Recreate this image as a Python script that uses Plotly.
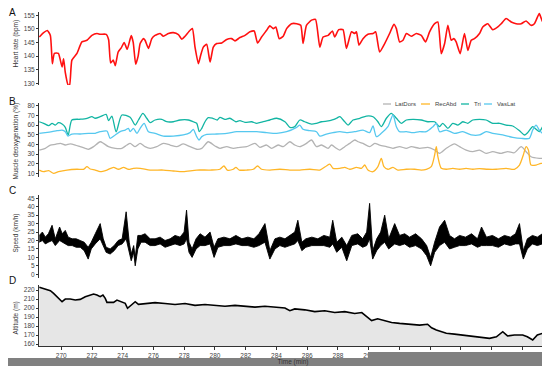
import plotly.graph_objects as go

# ---------------- data ----------------
hr_time = [268.57, 268.83, 269.09, 269.29, 269.42, 269.55, 269.81, 270.05, 270.15, 270.26, 270.44, 270.54,
           270.69, 271.02, 271.34, 271.67, 271.99, 272.32, 272.53, 272.92, 273.08, 273.21, 273.38, 273.51,
           273.70, 273.90, 274.09, 274.29, 274.55, 274.68, 274.84, 275.00, 275.13, 275.34, 275.45, 275.67,
           275.89, 276.10, 276.43, 276.64, 276.97, 277.29, 277.62, 277.84, 278.05, 278.38, 278.53, 278.70,
           278.92, 279.07, 279.24, 279.46, 279.68, 279.89, 280.11, 280.44, 280.76, 281.08, 281.30, 281.62,
           281.95, 282.27, 282.55, 282.77, 283.03, 283.36, 283.57, 283.79, 283.96, 284.18, 284.44, 284.66,
           284.98, 285.31, 285.58, 285.73, 285.95, 286.28, 286.54, 286.82, 287.03, 287.36, 287.64, 287.79,
           288.05, 288.33, 288.55, 288.88, 289.09, 289.20, 289.37, 289.63, 289.95, 290.28, 290.45, 290.71,
           291.04, 291.36, 291.64, 291.80, 292.01, 292.23, 292.45, 292.77, 293.10, 293.42, 293.70, 293.96,
           294.29, 294.50, 294.72, 294.94, 295.15, 295.37, 295.54, 295.69, 295.95, 296.23, 296.45, 296.67,
           296.88, 297.21, 297.42, 297.75, 298.07, 298.40, 298.62, 298.94, 299.27, 299.59, 299.92, 300.24,
           300.56, 300.78, 301.10, 301.32, 301.49]
hr_bpm = [147.0, 148.5, 149.4, 147.6, 137.2, 141.0, 141.0, 136.0, 139.0, 134.0, 129.4, 129.4,
          138.5, 141.0, 145.2, 145.8, 147.6, 148.3, 148.0, 148.0, 146.0, 137.5, 138.5, 136.5,
          141.5, 143.0, 145.0, 142.5, 147.5, 145.0, 137.0, 140.0, 144.6, 146.4, 145.8, 142.8,
          146.4, 147.6, 148.3, 147.3, 148.3, 148.6, 147.9, 146.2, 147.3, 149.5, 150.1, 143.3,
          137.2, 140.3, 143.3, 144.3, 137.8, 143.3, 144.6, 144.8, 146.1, 146.4, 145.6, 146.8,
          147.6, 148.9, 149.2, 144.8, 147.0, 149.5, 151.1, 150.1, 150.7, 146.4, 147.3, 150.1,
          151.9, 151.9, 151.3, 144.6, 151.3, 153.2, 153.5, 143.3, 147.0, 147.6, 149.2, 147.0,
          149.7, 149.7, 142.8, 148.9, 148.3, 148.9, 144.0, 146.4, 148.0, 148.3, 148.9, 141.5,
          144.6, 148.3, 151.7, 150.1, 145.2, 145.8, 148.3, 147.3, 148.3, 147.6, 145.2, 148.9,
          151.9, 152.5, 140.9, 144.6, 151.3, 145.8, 146.4, 145.2, 140.9, 148.3, 142.1, 145.8,
          146.4, 148.3, 150.7, 151.9, 149.7, 150.7, 151.9, 153.8, 152.5, 151.9, 151.9, 152.9,
          151.3, 151.9, 155.6, 152.5, 155.8]

latdors_time = [268.57, 268.96, 269.29, 269.61, 269.94, 270.26, 270.58, 270.91, 271.23, 271.56, 271.77, 272.10,
                272.53, 272.75, 273.07, 273.51, 273.94, 274.27, 274.48, 274.81, 275.13, 275.45, 275.78, 276.21,
                276.64, 277.08, 277.51, 277.94, 278.38, 278.81, 279.14, 279.56, 280.00, 280.32, 280.76, 281.19,
                281.62, 282.06, 282.60, 282.92, 283.36, 283.68, 284.11, 284.44, 284.87, 285.19, 285.52, 285.95,
                286.28, 286.60, 286.93, 287.36, 287.58, 287.90, 288.12, 288.44, 288.77, 289.09, 289.31, 289.63,
                290.06, 290.39, 290.71, 291.15, 291.58, 292.01, 292.45, 292.77, 293.31, 293.85, 294.29, 294.61,
                295.05, 295.58, 295.91, 296.34, 296.77, 297.21, 297.64, 298.07, 298.62, 299.05, 299.48, 299.92,
                300.24, 300.56, 301.10, 301.49]
latdors = [34.1, 35.9, 39.3, 40.0, 41.0, 39.3, 40.4, 39.3, 37.6, 35.9, 34.9, 37.6,
           42.7, 41.0, 37.6, 35.9, 35.9, 39.3, 41.0, 37.6, 41.0, 37.6, 35.9, 37.6,
           41.0, 39.3, 37.6, 40.4, 37.6, 34.9, 35.9, 42.7, 38.3, 35.9, 37.6, 35.9,
           36.9, 37.6, 41.0, 36.9, 39.3, 35.9, 39.3, 37.6, 42.7, 39.3, 37.6, 41.0,
           44.5, 37.6, 39.3, 35.9, 39.3, 35.9, 34.1, 37.6, 41.0, 44.5, 42.7, 41.0,
           37.6, 41.0, 39.3, 37.6, 35.9, 37.6, 35.9, 37.6, 35.9, 36.9, 34.1, 30.7,
           35.9, 40.4, 37.6, 34.1, 32.4, 34.1, 30.7, 32.4, 30.7, 32.4, 31.3, 37.6,
           32.4, 27.2, 25.5, 25.5]

recabd_time = [268.57, 268.85, 269.18, 269.50, 269.82, 270.37, 271.02, 271.45, 271.67, 271.88, 272.21, 272.53,
               272.97, 273.40, 273.72, 274.05, 274.37, 274.69, 275.13, 275.78, 276.64, 277.29, 277.94, 278.81,
               279.68, 280.32, 280.58, 280.80, 281.19, 281.36, 281.58, 282.06, 282.49, 282.77, 283.03, 283.57,
               284.22, 284.87, 285.52, 286.17, 286.82, 287.25, 287.47, 287.68, 288.12, 288.44, 288.77, 289.20,
               289.53, 289.74, 289.95, 290.28, 290.60, 290.82, 290.99, 291.25, 291.58, 291.90, 292.45, 292.99,
               293.42, 293.75, 294.07, 294.29, 294.40, 294.50, 294.72, 295.05, 295.47, 295.91, 296.34, 296.77,
               297.21, 297.75, 298.30, 298.94, 299.48, 299.81, 300.06, 300.24, 300.39, 300.56, 300.89, 301.21,
               301.49]
recabd = [13.4, 11.7, 12.7, 10.0, 11.7, 13.4, 14.2, 14.2, 16.9, 14.5, 13.4, 11.7,
          13.4, 16.2, 14.2, 16.2, 14.2, 15.2, 15.2, 13.4, 13.4, 12.4, 11.7, 13.4,
          13.4, 14.2, 17.6, 13.4, 14.2, 16.2, 13.4, 13.4, 14.2, 17.6, 14.2, 13.4,
          14.2, 13.4, 13.4, 14.2, 13.4, 17.6, 19.6, 15.2, 15.2, 16.2, 14.2, 16.2,
          15.2, 18.6, 13.4, 11.7, 16.9, 25.5, 16.9, 14.2, 16.2, 13.4, 14.2, 14.2,
          13.4, 14.2, 16.9, 29.0, 37.6, 27.2, 15.2, 14.2, 15.2, 14.2, 15.2, 14.2,
          14.8, 14.2, 14.2, 15.2, 14.2, 18.6, 29.0, 37.6, 34.1, 18.6, 18.6, 20.3,
          19.6]

tri_time = [268.57, 268.85, 269.18, 269.40, 269.61, 269.82, 270.05, 270.26, 270.45, 270.69, 271.23, 271.67,
            271.99, 272.21, 272.53, 272.92, 273.07, 273.29, 273.57, 273.94, 274.48, 274.81, 275.02, 275.31,
            275.56, 275.78, 276.10, 276.54, 276.86, 277.29, 277.73, 278.27, 278.59, 278.81, 278.98, 279.14,
            279.35, 279.56, 279.85, 280.15, 280.32, 280.65, 280.97, 281.36, 281.62, 281.95, 282.38, 282.71,
            283.14, 283.57, 284.01, 284.55, 284.87, 285.19, 285.52, 285.84, 286.28, 286.60, 286.93, 287.47,
            287.90, 288.12, 288.44, 288.66, 288.98, 289.42, 289.85, 290.28, 290.60, 290.82, 291.15, 291.47,
            291.80, 292.12, 292.45, 292.88, 293.42, 293.85, 294.29, 294.61, 294.82, 295.15, 295.47, 295.80,
            296.12, 296.45, 296.77, 297.21, 297.64, 298.07, 298.51, 298.94, 299.37, 299.81, 300.13, 300.34,
            300.67, 300.89, 301.10, 301.32, 301.49]
tri = [63.4, 61.8, 59.3, 61.8, 60.0, 62.4, 61.0, 57.6, 49.7, 65.2, 66.0, 67.0,
       68.6, 67.0, 68.6, 71.0, 64.5, 69.3, 53.0, 70.4, 68.0, 60.0, 65.2, 72.1,
       67.0, 62.4, 65.2, 65.9, 63.4, 63.4, 65.2, 65.2, 63.4, 61.8, 53.1, 56.6,
       63.4, 67.6, 67.0, 65.2, 68.0, 65.9, 67.0, 63.4, 64.5, 62.8, 63.4, 61.8,
       63.4, 65.2, 67.0, 63.4, 57.6, 58.3, 65.2, 63.4, 61.0, 61.8, 63.4, 64.5,
       67.0, 68.6, 63.4, 60.0, 65.2, 67.0, 69.3, 68.6, 63.4, 58.3, 67.0, 72.1,
       67.0, 61.8, 65.2, 65.9, 65.2, 63.4, 63.4, 58.3, 61.8, 56.6, 61.8, 60.0,
       63.4, 61.8, 65.2, 65.9, 65.2, 61.8, 61.8, 60.0, 59.0, 54.1, 49.7, 52.1,
       58.3, 55.6, 53.1, 58.3, 61.8]

vaslat_time = [268.57, 268.96, 269.40, 269.72, 270.05, 270.26, 270.44, 270.69, 271.23, 271.77, 272.21, 272.53,
               272.97, 273.18, 273.51, 273.83, 274.16, 274.37, 274.48, 274.69, 274.92, 275.13, 275.39, 275.67,
               276.10, 276.64, 277.29, 277.94, 278.38, 278.59, 278.81, 278.96, 279.14, 279.46, 280.11, 280.76,
               281.41, 282.06, 282.71, 283.36, 284.01, 284.66, 285.31, 285.52, 285.73, 286.17, 286.60, 286.82,
               287.25, 287.68, 288.12, 288.55, 289.09, 289.63, 290.06, 290.28, 290.50, 290.82, 291.25, 291.58,
               291.80, 292.01, 292.45, 292.88, 293.31, 293.75, 294.18, 294.40, 294.61, 295.05, 295.58, 296.12,
               296.67, 297.21, 297.64, 298.07, 298.72, 299.37, 299.92, 300.45, 300.67, 300.89, 301.10, 301.32,
               301.49]
vaslat = [51.4, 52.1, 53.1, 54.1, 54.8, 53.1, 48.6, 50.7, 50.7, 51.4, 51.4, 53.1,
          53.8, 46.2, 49.7, 53.1, 54.8, 56.6, 53.1, 56.6, 51.4, 56.6, 61.8, 53.1,
          51.4, 48.6, 48.6, 49.7, 52.1, 55.6, 48.0, 44.5, 48.0, 50.4, 50.7, 51.4,
          53.1, 53.1, 53.1, 52.1, 51.4, 53.1, 57.6, 60.0, 55.6, 54.1, 53.1, 48.6,
          50.7, 52.1, 53.1, 52.1, 53.1, 54.8, 52.1, 59.0, 48.0, 51.4, 58.3, 70.4,
          58.3, 53.1, 53.1, 52.1, 53.1, 53.1, 58.3, 61.8, 53.1, 54.8, 51.4, 53.1,
          49.7, 49.7, 53.1, 51.4, 49.7, 47.3, 46.2, 46.2, 54.8, 60.0, 54.8, 51.4,
          51.4]

speed_time = [268.57, 268.77, 268.96, 269.16, 269.40, 269.61, 269.89, 270.06, 270.26, 270.45, 270.71, 270.97,
              271.23, 271.49, 271.75, 271.95, 272.21, 272.53, 272.73, 272.92, 273.18, 273.44, 273.70, 273.96,
              274.22, 274.42, 274.55, 274.71, 274.81, 274.98, 275.19, 275.45, 275.78, 276.10, 276.43, 276.75,
              277.08, 277.40, 277.73, 277.99, 278.15, 278.31, 278.51, 278.77, 279.03, 279.35, 279.68, 279.94,
              280.19, 280.58, 280.97, 281.36, 281.75, 282.14, 282.53, 282.86, 283.25, 283.57, 283.90, 284.22,
              284.55, 284.87, 285.19, 285.39, 285.65, 285.91, 286.30, 286.69, 287.08, 287.47, 287.66, 287.92,
              288.25, 288.57, 288.90, 289.29, 289.61, 289.87, 290.06, 290.26, 290.52, 290.78, 291.04, 291.30,
              291.69, 292.01, 292.34, 292.66, 293.05, 293.44, 293.77, 294.03, 294.29, 294.61, 294.94, 295.26,
              295.58, 295.91, 296.30, 296.69, 297.08, 297.34, 297.66, 298.05, 298.44, 298.83, 299.22, 299.55,
              299.81, 300.06, 300.32, 300.65, 300.97, 301.30, 301.56]
speed_high = [23, 25, 22, 24, 29, 21, 28, 24, 26, 22, 21, 21,
              20, 19, 16, 19, 24, 30, 21, 16, 15, 17, 20, 21,
              37, 19, 12, 17, 10, 23, 23, 24, 21, 21, 22, 20,
              21, 23, 22, 25, 38, 19, 15, 21, 24, 22, 25, 16,
              21, 22, 21, 23, 21, 22, 21, 24, 30, 14, 21, 22,
              21, 23, 25, 32, 19, 21, 22, 21, 23, 22, 32, 19,
              22, 17, 23, 24, 21, 25, 42, 14, 21, 25, 35, 21,
              30, 23, 24, 22, 24, 21, 17, 10, 19, 28, 32, 23,
              21, 23, 22, 24, 21, 28, 22, 23, 21, 23, 22, 24,
              30, 14, 21, 23, 22, 24, 23]
speed_low = [19, 20, 18, 19, 20, 17, 20, 19, 18, 17, 17, 16,
             16, 14, 9, 15, 18, 21, 17, 13, 12, 14, 17, 18,
             21, 14, 8, 13, 5, 15, 19, 19, 17, 17, 18, 16,
             17, 18, 17, 18, 21, 13, 10, 15, 17, 17, 18, 10,
             16, 17, 17, 18, 17, 17, 16, 17, 19, 9, 15, 17,
             16, 17, 18, 20, 14, 16, 17, 17, 17, 16, 18, 13,
             16, 8, 17, 18, 16, 17, 21, 9, 14, 17, 19, 15,
             18, 17, 18, 16, 17, 15, 11, 5, 13, 17, 19, 15,
             16, 17, 17, 18, 16, 17, 17, 17, 16, 18, 17, 18,
             18, 9, 15, 18, 17, 18, 18]

alt_time = [268.57, 268.75, 269.07, 269.29, 269.50, 269.72, 269.89, 270.05, 270.26, 270.58, 270.91, 271.23,
            271.56, 271.88, 272.10, 272.32, 272.53, 272.71, 272.86, 272.97, 273.40, 273.62, 273.94, 274.16,
            274.31, 274.59, 274.81, 275.02, 275.45, 276.10, 276.75, 277.40, 278.05, 278.70, 279.35, 280.00,
            280.65, 281.30, 281.95, 282.60, 283.25, 283.90, 284.55, 284.87, 285.19, 285.84, 286.49, 287.14,
            287.79, 288.44, 289.09, 289.55, 289.94, 290.19, 290.58, 291.04, 291.49, 292.01, 292.66, 293.31,
            293.83, 294.09, 294.40, 294.68, 295.05, 295.58, 296.12, 296.56, 297.21, 297.86, 298.31, 298.72,
            299.03, 299.48, 300.02, 300.32, 300.67, 300.97, 301.32, 301.56]
altitude = [223.0, 221.9, 220.0, 219.3, 216.3, 212.6, 208.9, 207.0, 210.0, 210.0, 208.9, 209.6,
            212.6, 214.4, 215.6, 214.4, 212.6, 214.4, 210.7, 206.3, 206.3, 208.9, 207.0, 205.2,
            199.7, 203.3, 207.0, 204.1, 205.0, 206.0, 205.0, 204.0, 205.0, 203.0, 204.0, 203.0,
            202.0, 203.0, 202.0, 201.0, 202.0, 201.0, 200.0, 197.0, 199.0, 198.0, 196.0, 197.0,
            195.0, 196.0, 194.0, 195.0, 190.0, 186.0, 188.0, 186.0, 184.0, 183.0, 182.0, 181.0,
            182.0, 178.0, 175.6, 174.0, 171.9, 171.0, 170.0, 169.0, 168.0, 166.3, 168.0, 173.7,
            169.0, 170.0, 170.0, 168.0, 164.4, 170.0, 171.9, 171.0]

x_ticks = [270, 272, 274, 276, 278, 280, 282, 284, 286, 288, 290, 292, 294, 296, 298, 300]
hr_ticks = [130, 135, 140, 145, 150, 155]
deox_ticks = [10, 20, 30, 40, 50, 60, 70, 80]
speed_ticks = [0, 5, 10, 15, 20, 25, 30, 35, 40, 45]
alt_ticks = [160, 170, 180, 190, 200, 210, 220]

muscle_names = ["LatDors", "RecAbd", "Tri", "VasLat"]
muscle_colors = ["#b3b3b3", "#ffb627", "#12b5a3", "#56c8ef"]

# ---------------- figure ----------------
FONT = "Liberation Sans, Arial, sans-serif"
OFF = 8                      # page body margin offset
W, H = 550 - OFF, 366 - OFF
PL, PR, PT, PB = 39, 547, 12, 346   # plot area in screen pixels
L, T = PL - OFF, PT - OFF
R, B = 550 - PR, 366 - PB
PW, PH = PR - PL, PB - PT

def py(p):  # screen row -> paper y
    return 1 - (p - PT) / PH

def px(p):  # screen col -> paper x
    return (p - PL) / PW

fig = go.Figure()

fig.add_trace(go.Scatter(x=hr_time, y=hr_bpm, mode="lines",
                         line=dict(color="#ff1010", width=1.6, shape="spline", smoothing=0.5),
                         xaxis="x4", yaxis="y4", showlegend=False))
for name, col, tt, vv in zip(muscle_names, muscle_colors,
                             [latdors_time, recabd_time, tri_time, vaslat_time],
                             [latdors, recabd, tri, vaslat]):
    fig.add_trace(go.Scatter(x=tt, y=vv, mode="lines",
                             line=dict(color=col, width=1.3, shape="spline", smoothing=0.7),
                             xaxis="x3", yaxis="y3", name=name, showlegend=False))
fig.add_trace(go.Scatter(x=speed_time + speed_time[::-1], y=speed_high + speed_low[::-1],
                         mode="lines", fill="toself", fillcolor="#000000",
                         line=dict(color="#000000", width=0.9),
                         xaxis="x2", yaxis="y2", showlegend=False))
fig.add_trace(go.Scatter(x=alt_time, y=altitude, mode="lines", fill="tozeroy", fillcolor="#e6e6e6",
                         line=dict(color="#000000", width=1.6), xaxis="x", yaxis="y", showlegend=False))

xr = [268.55, 301.6]
common_y = dict(showline=True, linecolor="#333333", linewidth=1, ticks="outside", ticklen=2,
                tickcolor="#333333", tickwidth=0.8, showgrid=False, zeroline=False, automargin=False,
                tickfont=dict(size=6.5, color="#444444", family=FONT))

fig.update_layout(
    width=W, height=H, margin=dict(l=L, r=R, t=T, b=B, autoexpand=False),
    paper_bgcolor="white", plot_bgcolor="white",
    font=dict(family=FONT, size=7, color="#333333"),
    xaxis=dict(range=xr, domain=[0, 1], anchor="y", tickvals=x_ticks, ticks="outside", ticklen=3,
               tickcolor="#333333", tickwidth=0.8, showline=True, linecolor="#333333", linewidth=1,
               showgrid=False, zeroline=False, automargin=False,
               tickfont=dict(size=6.5, color="#444444", family=FONT),
               title=dict(text="Time (min)", font=dict(size=6.5, color="#333333"), standoff=0)),
    xaxis2=dict(matches="x", anchor="y2", visible=False),
    xaxis3=dict(matches="x", anchor="y3", visible=False),
    xaxis4=dict(matches="x", anchor="y4", visible=False),
    yaxis=dict(domain=[0, py(285)], range=[157.8, 225.6], tickvals=alt_ticks, **common_y),
    yaxis2=dict(domain=[py(278), py(195)], range=[-2.2, 46.95], tickvals=speed_ticks, **common_y),
    yaxis3=dict(domain=[py(177), py(103)], range=[6.2, 82.8], tickvals=deox_ticks, **common_y),
    yaxis4=dict(domain=[py(85), 1], range=[129.36, 156.2], tickvals=hr_ticks, **common_y),
)

for letter, row in zip("ABCD", [12, 101, 190, 280]):
    fig.add_annotation(text=letter, xref="paper", yref="paper", x=px(12), y=py(row),
                       xanchor="center", yanchor="middle",
                       showarrow=False, font=dict(size=10, color="#111111", family=FONT))

for txt, row in zip(["Heart rate (bpm)", "Muscle deoxygenation (%)", "Speed (km/h)", "Altitude (m)"],
                    [44, 141, 233, 318]):
    fig.add_annotation(text=txt, xref="paper", yref="paper", x=px(15.5), y=py(row), textangle=-90,
                       xanchor="center", yanchor="middle",
                       showarrow=False, font=dict(size=6.5, color="#333333", family=FONT))

leg_y = py(104)
for (k0, k1, tx), name, col in zip([(383, 391, 393), (421, 430, 433), (461, 469, 472), (484, 492, 495)],
                                   muscle_names, muscle_colors):
    fig.add_shape(type="line", xref="paper", yref="paper", x0=px(k0), x1=px(k1), y0=leg_y, y1=leg_y,
                  line=dict(color=col, width=1.3))
    fig.add_annotation(text=name, xref="paper", yref="paper", x=px(tx), y=leg_y,
                       xanchor="left", yanchor="middle",
                       showarrow=False, font=dict(size=6, color="#444444", family=FONT))

# grey strip overlaying the bottom of the picture
fig.add_shape(type="rect", xref="paper", yref="paper", x0=px(0), x1=px(560), y0=py(358), y1=py(372),
              fillcolor="#808080", line=dict(width=0), layer="above")
fig.add_shape(type="rect", xref="paper", yref="paper", x0=px(368), x1=px(560), y0=py(352), y1=py(372),
              fillcolor="#808080", line=dict(width=0), layer="above")

fig.write_html("out.html")
